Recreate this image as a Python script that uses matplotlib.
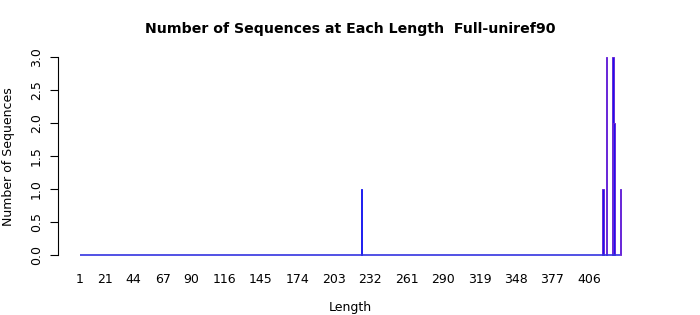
import matplotlib
matplotlib.use('Agg')
import matplotlib.pyplot as plt

# data
lengths = [225, 417, 420, 425, 426, 431]
counts = [1, 1, 3, 3, 2, 1]
min_length = 1
max_length = 431
xtick_labels = [1, 21, 44, 67, 90, 116, 145, 174, 203, 232, 261, 290, 319, 348, 377, 406]
ytick_values = [0.0, 0.5, 1.0, 1.5, 2.0, 2.5, 3.0]


def main():
    fig = plt.figure(figsize=(7, 3.15), dpi=100)
    ax = fig.add_axes([58 / 700, 1 - 263 / 315, 584 / 700, 214 / 315])

    ax.hlines(0, min_length, max_length, color='#3333e0', linewidth=1.2)
    # the long tail bars pick up a purple edge in the reference
    edges = ['#2020f0' if L < 400 else '#6a28d8' for L in lengths]
    ax.bar(lengths, counts, width=1.3, facecolor='#1c10f0', edgecolor=edges,
           linewidth=0.7, align='center')

    span = max_length - min_length
    ax.set_xlim(min_length - 0.04 * span, max_length + 0.04 * span)
    ax.set_ylim(-0.12, 3.12)

    for side in ['top', 'right', 'bottom']:
        ax.spines[side].set_visible(False)
    ax.spines['left'].set_bounds(0, 3)

    ax.set_yticks(ytick_values)
    ax.set_yticklabels([f'{v:.1f}' for v in ytick_values], rotation=90, va='center', fontsize=9)
    ax.tick_params(axis='y', length=6, direction='out', pad=5)

    ax.set_xticks(xtick_labels)
    ax.set_xticklabels([str(v) for v in xtick_labels], fontsize=9)
    ax.tick_params(axis='x', length=0, pad=7)

    fig.text(350 / 700, 1 - 308 / 315, 'Length', fontsize=9, ha='center', va='center')
    fig.text(9 / 700, 1 - 157 / 315, 'Number of Sequences', fontsize=9, rotation=90,
             ha='center', va='center')
    fig.text(350 / 700, 1 - 29 / 315, 'Number of Sequences at Each Length  Full-uniref90',
             fontsize=10.2, fontweight='bold', ha='center', va='center')

    fig.savefig('out.png', dpi=100)


if __name__ == "__main__":
    main()
